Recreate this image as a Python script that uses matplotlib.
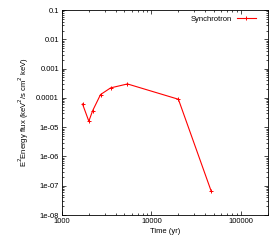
import matplotlib
matplotlib.use("Agg")
import matplotlib.pyplot as plt
from matplotlib.ticker import FixedLocator, LogLocator, NullFormatter

# synchrotron energy flux vs. age
time_yr = [1700, 2000, 2200, 2700, 3500, 5400, 20000, 46500]
flux = [6.2e-5, 1.6e-5, 3.6e-5, 1.3e-4, 2.2e-4, 3.0e-4, 9.0e-5, 6.5e-8]

yticks = [1e-8, 1e-7, 1e-6, 1e-5, 1e-4, 1e-3, 1e-2, 1e-1]
ylabels = ["1e-08", "1e-07", "1e-06", "1e-05", "0.0001", "0.001", "0.01", "0.1"]
xticks = [1000, 10000, 100000]
xlabels = ["1000", "10000", "100000"]

plt.rcParams["font.family"] = ["Liberation Sans", "DejaVu Sans"]
plt.rcParams["font.size"] = 5.5

fig = plt.figure(figsize=(2.8, 2.4), dpi=100)
ax = fig.add_axes([0.221, 0.104, 0.736, 0.854])

ax.plot(time_yr, flux, "-+", color="#ff0000", lw=0.8, ms=3, mew=0.7,
        label="Synchrotron")

ax.set_xscale("log")
ax.set_yscale("log")
ax.set_xlim(1000, 200000)
ax.set_ylim(1e-8, 0.1)

ax.xaxis.set_major_locator(FixedLocator(xticks))
ax.set_xticklabels(xlabels)
ax.xaxis.set_minor_locator(LogLocator(base=10, subs=range(2, 10), numticks=20))
ax.xaxis.set_minor_formatter(NullFormatter())
ax.yaxis.set_major_locator(FixedLocator(yticks))
ax.set_yticklabels(ylabels)
ax.yaxis.set_minor_locator(LogLocator(base=10, subs=range(2, 10), numticks=20))
ax.yaxis.set_minor_formatter(NullFormatter())

ax.tick_params(which="both", direction="in", top=True, right=True, width=0.5)
ax.tick_params(which="major", length=3, pad=2)
ax.tick_params(which="minor", length=1.5)
for s in ax.spines.values():
    s.set_linewidth(0.6)

ax.set_xlabel("Time (yr)", labelpad=2)
ax.set_ylabel("E$^2$Energy flux (keV$^2$/s cm$^2$ keV)", labelpad=4)

leg = ax.legend(loc="upper right", bbox_to_anchor=(0.97, 1.0), frameon=False,
                markerfirst=False, handlelength=2.6, borderaxespad=0.3,
                handletextpad=0.6)

fig.savefig("out.png", dpi=100)
